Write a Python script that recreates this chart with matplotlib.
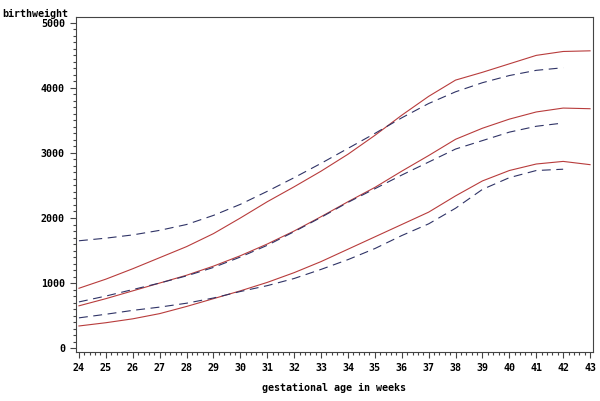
import numpy as np
import matplotlib
matplotlib.use("Agg")
import matplotlib.pyplot as plt
from matplotlib.ticker import MultipleLocator

# weekly values
weeks_red = np.arange(24, 44)
weeks_blue = np.arange(24, 43)

upper_red = [920, 1060, 1220, 1390, 1560, 1760, 2000, 2250, 2480, 2720,
             2980, 3270, 3580, 3870, 4120, 4240, 4370, 4500, 4560, 4570]
middle_red = [650, 760, 880, 1000, 1120, 1260, 1420, 1600, 1800, 2020,
              2250, 2470, 2720, 2960, 3210, 3380, 3520, 3630, 3690, 3680]
lower_red = [340, 390, 450, 530, 640, 760, 880, 1010, 1160, 1330,
             1520, 1710, 1900, 2090, 2340, 2570, 2730, 2830, 2870, 2820]

upper_blue = [1650, 1690, 1740, 1810, 1900, 2040, 2210, 2410, 2620, 2840,
              3070, 3300, 3540, 3760, 3940, 4080, 4190, 4270, 4310]
middle_blue = [710, 800, 900, 1000, 1110, 1240, 1400, 1580, 1790, 2010,
               2240, 2450, 2660, 2860, 3060, 3190, 3320, 3410, 3460]
lower_blue = [465, 520, 580, 630, 690, 770, 870, 960, 1070, 1210,
              1360, 1530, 1730, 1910, 2150, 2440, 2620, 2730, 2750]

x_ticks = list(range(24, 44))
y_ticks = [0, 1000, 2000, 3000, 4000, 5000]

font = dict(family="DejaVu Sans Mono", weight="bold", size=7.2)

fig = plt.figure(figsize=(6, 4.01), dpi=100)
ax = fig.add_axes([76 / 600, 1 - 352 / 401, (593 - 76) / 600, (352 - 17) / 401])

red = "#b83c3c"
blue = "#2f3366"
for vals in (upper_red, middle_red, lower_red):
    ax.plot(weeks_red, vals, color=red, lw=0.8)
for vals in (upper_blue, middle_blue, lower_blue):
    ax.plot(weeks_blue, vals, color=blue, lw=0.8, dashes=(8, 5))

ax.set_xlim(23.89, 43.11)
ax.set_ylim(-60, 5090)
ax.set_xticks(x_ticks)
ax.set_yticks(y_ticks)
ax.xaxis.set_minor_locator(MultipleLocator(0.2))
ax.yaxis.set_minor_locator(MultipleLocator(100))
ax.tick_params(which="major", direction="out", length=4, width=0.8, color="#444444", pad=4)
ax.tick_params(which="minor", direction="out", length=2, width=0.8, color="#444444")
ax.set_xticklabels([str(v) for v in x_ticks], **font)
ax.set_yticklabels([str(v) for v in y_ticks], **font)
for s in ax.spines.values():
    s.set_linewidth(0.8)
    s.set_color("#444444")

fig.text(2 / 600, 1 - 14 / 401, "birthweight", ha="left", va="center", **font)
fig.text(334.5 / 600, 1 - 388 / 401, "gestational age in weeks", ha="center", va="center", **font)

fig.savefig("out.png", dpi=100)
